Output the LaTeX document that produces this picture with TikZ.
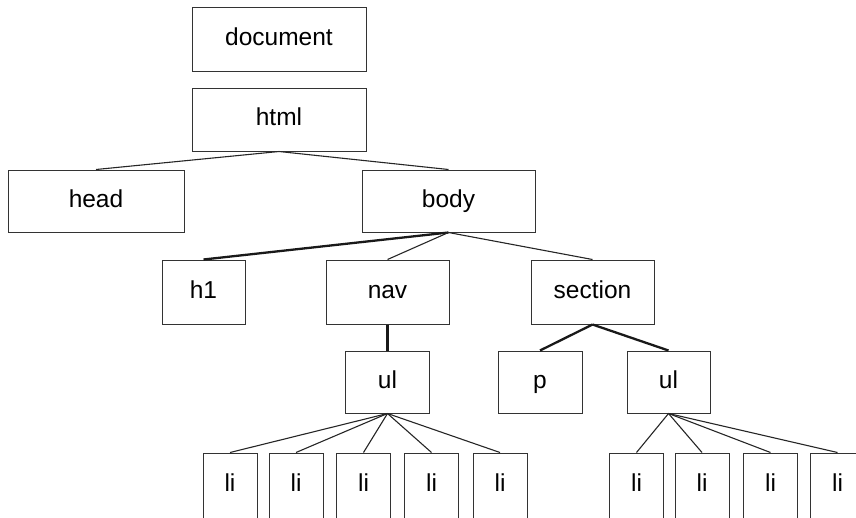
\documentclass[tikz,border=0pt]{standalone}
\usepackage{fontspec}
\setmainfont{Liberation Sans}
\usepackage{tikz}

\begin{document}
\begin{tikzpicture}[x=1pt, y=-1pt,
        tag/.style={rectangle, draw=black!80, line width=1pt, inner sep=0pt,
            font=\fontsize{24.5}{28}\selectfont, text height=17.5pt, text depth=5.5pt},
        leaf/.style={tag, minimum width=54pt, minimum height=66pt, text depth=7.5pt},
        link/.style={line width=1.1pt, draw=black!85},
        boldlink/.style={line width=2.3pt, draw=black!90}]
        \useasboundingbox (0,0) rectangle (856,517);
        \node[tag, minimum width=174pt, minimum height=64pt] (doc) at (279,39) {document};
        \node[tag, minimum width=174pt, minimum height=63pt] (html) at (279,119.5) {html};
        \node[tag, minimum width=176pt, minimum height=62pt] (head) at (96,201) {head};
        \node[tag, minimum width=173pt, minimum height=62pt] (body) at (448.5,201) {body};
        \node[tag, minimum width=83pt, minimum height=64pt] (h1) at (203.5,292) {h1};
        \node[tag, minimum width=123pt, minimum height=64pt] (nav) at (387.5,292) {nav};
        \node[tag, minimum width=123pt, minimum height=64pt] (sec) at (592.5,292) {section};
        \node[tag, minimum width=84pt, minimum height=62pt] (navul) at (387.5,382) {ul};
        \node[tag, minimum width=84pt, minimum height=62pt] (p) at (540,382) {p};
        \node[tag, minimum width=83pt, minimum height=62pt] (secul) at (668.5,382) {ul};
        \node[leaf] (li1) at (230,486) {li};
        \node[leaf] (li2) at (296,486) {li};
        \node[leaf] (li3) at (363.5,486) {li};
        \node[leaf] (li4) at (431.5,486) {li};
        \node[leaf] (li5) at (500,486) {li};
        \node[leaf] (li6) at (636.5,486) {li};
        \node[leaf] (li7) at (702,486) {li};
        \node[leaf] (li8) at (770.5,486) {li};
        \node[leaf] (li9) at (837.5,486) {li};
        % Tree edges
        \draw[link] (html.south) -- (head.north);
        \draw[link] (html.south) -- (body.north);
        \draw[boldlink] (body.south) -- (h1.north);
        \draw[link] (body.south) -- (nav.north);
        \draw[link] (body.south) -- (sec.north);
        \draw[boldlink] (nav.south) -- (navul.north);
        \draw[boldlink] (sec.south) -- (p.north);
        \draw[boldlink] (sec.south) -- (secul.north);
        \draw[link] (navul.south) -- (li1.north);
        \draw[link] (navul.south) -- (li2.north);
        \draw[link] (navul.south) -- (li3.north);
        \draw[link] (navul.south) -- (li4.north);
        \draw[link] (navul.south) -- (li5.north);
        \draw[link] (secul.south) -- (li6.north);
        \draw[link] (secul.south) -- (li7.north);
        \draw[link] (secul.south) -- (li8.north);
        \draw[link] (secul.south) -- (li9.north);
    \end{tikzpicture}
\end{document}
